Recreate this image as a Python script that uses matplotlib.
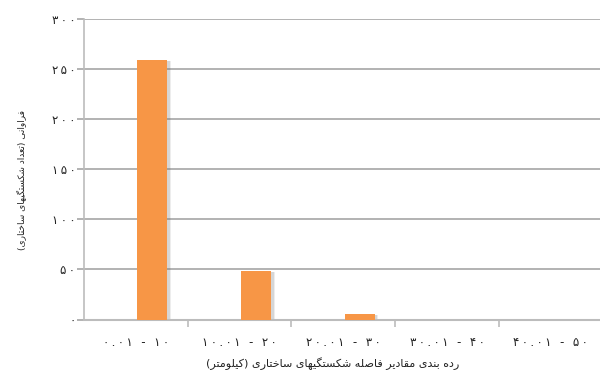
import numpy as np
import matplotlib.pyplot as plt
from matplotlib.transforms import ScaledTranslation

plt.rcParams['font.family'] = ['DejaVu Sans']

# distance classes (km) and number of structural fractures in each
classes = ['۰.۰۱ - ۱۰', '۱۰.۰۱ - ۲۰', '۲۰.۰۱ - ۳۰', '۳۰.۰۱ - ۴۰', '۴۰.۰۱ - ۵۰']
counts = [259, 48, 6, 0, 0]
yticks = [0, 50, 100, 150, 200, 250, 300]

xlabel_fa = 'رده بندی مقادیر فاصله شکستگیهای ساختاری (کیلومتر)'
ylabel_fa = 'فراوانی (تعداد شکستگیهای ساختاری)'

# contextual forms: isolated, final, initial, medial (None = joins to the right only)
FORMS = {
    'ا': ('\uFE8D', '\uFE8E', None, None),
    'ب': ('\uFE8F', '\uFE90', '\uFE91', '\uFE92'),
    'ت': ('\uFE95', '\uFE96', '\uFE97', '\uFE98'),
    'خ': ('\uFEA5', '\uFEA6', '\uFEA7', '\uFEA8'),
    'د': ('\uFEA9', '\uFEAA', None, None),
    'ر': ('\uFEAD', '\uFEAE', None, None),
    'س': ('\uFEB1', '\uFEB2', '\uFEB3', '\uFEB4'),
    'ش': ('\uFEB5', '\uFEB6', '\uFEB7', '\uFEB8'),
    'ص': ('\uFEB9', '\uFEBA', '\uFEBB', '\uFEBC'),
    'ع': ('\uFEC9', '\uFECA', '\uFECB', '\uFECC'),
    'ف': ('\uFED1', '\uFED2', '\uFED3', '\uFED4'),
    'ق': ('\uFED5', '\uFED6', '\uFED7', '\uFED8'),
    'ل': ('\uFEDD', '\uFEDE', '\uFEDF', '\uFEE0'),
    'م': ('\uFEE1', '\uFEE2', '\uFEE3', '\uFEE4'),
    'ن': ('\uFEE5', '\uFEE6', '\uFEE7', '\uFEE8'),
    'ه': ('\uFEE9', '\uFEEA', '\uFEEB', '\uFEEC'),
    'و': ('\uFEED', '\uFEEE', None, None),
    'ی': ('\uFBFC', '\uFBFD', '\uFBFE', '\uFBFF'),
    'ک': ('\uFB8E', '\uFB8F', '\uFB90', '\uFB91'),
    'گ': ('\uFB92', '\uFB93', '\uFB94', '\uFB95'),
}


def shape_fa(text):
    out = []
    for i, ch in enumerate(text):
        if ch not in FORMS:
            out.append(ch)
            continue
        prev = text[i - 1] if i > 0 else ''
        nxt = text[i + 1] if i + 1 < len(text) else ''
        join_prev = prev in FORMS and FORMS[prev][2] is not None
        join_next = nxt in FORMS and FORMS[ch][2] is not None
        iso, fin, ini, med = FORMS[ch]
        if join_prev and join_next:
            out.append(med)
        elif join_prev:
            out.append(fin)
        elif join_next:
            out.append(ini)
        else:
            out.append(iso)
    vis = ''.join(reversed(out))
    return vis.translate(str.maketrans('()', ')('))


def spaced(s):
    # loosen digit strings a little
    return '\u2009'.join(s)


def fa_digits(v):
    return ''.join('۰۱۲۳۴۵۶۷۸۹'[int(d)] for d in str(v))


orange = '#F79646'
grid_c = '#a6a6a6'
axis_c = '#bcbcbc'

fig = plt.figure(figsize=(6.0, 3.76), dpi=100)
ax = fig.add_axes([0.1395, 0.15, 0.865, 0.80])

x = np.arange(len(classes))
off = 0.16
w = 0.29

# soft drop shadow on the right of each bar
shadow = ScaledTranslation(2.5 / 100, -1 / 100, fig.dpi_scale_trans)
for dx, a in [(0, 0.18), (1, 0.12)]:
    tr = ax.transData + ScaledTranslation(dx / 100, 0, fig.dpi_scale_trans) + shadow
    ax.bar(x + off, counts, width=w, color='#707070', alpha=a, transform=tr, zorder=2, linewidth=0)
ax.bar(x + off, counts, width=w, color=orange, zorder=3, linewidth=0)

ax.set_xlim(-0.5, 4.5)
ax.set_ylim(0, 300)
ax.set_yticks(yticks)
ax.set_yticklabels([spaced(fa_digits(v)) for v in yticks], fontsize=8.5, color='#222222')
ax.yaxis.grid(True, color=grid_c, linewidth=1.2, zorder=1)
ax.set_axisbelow(True)

ax.set_xticks(x)
ax.set_xticklabels([spaced(c) for c in classes], fontsize=8.5, color='#222222')
ax.set_xticks(np.arange(0.5, 4.5, 1.0), minor=True)
ax.tick_params(axis='x', which='major', length=0, pad=12)
ax.tick_params(axis='x', which='minor', length=5, color=axis_c, width=1.2)
ax.tick_params(axis='y', length=5, color=grid_c, width=1.2, pad=1)

for s in ['top', 'right']:
    ax.spines[s].set_visible(False)
ax.spines['left'].set_color(axis_c)
ax.spines['left'].set_linewidth(1.2)
ax.spines['bottom'].set_color(axis_c)
ax.spines['bottom'].set_linewidth(1.5)

fig.text(0.555, 0.016, shape_fa(xlabel_fa), ha='center', va='bottom', fontsize=8, color='#222222')
fig.text(0.035, 0.521, shape_fa(ylabel_fa), ha='center', va='center', rotation=90, fontsize=6.5, color='#222222')

fig.savefig('out.png', dpi=100)
